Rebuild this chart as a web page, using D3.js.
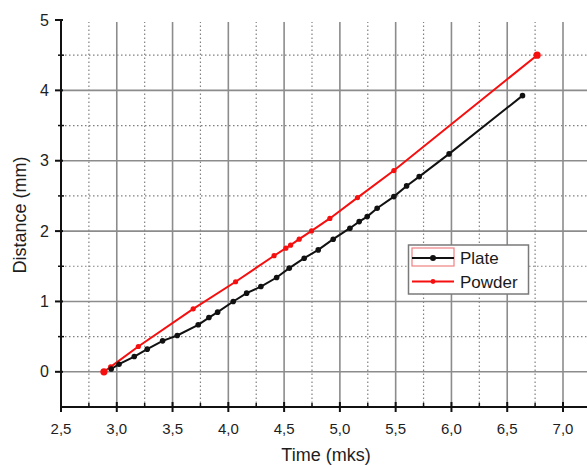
<!DOCTYPE html>
<html><head><meta charset="utf-8">
<script src="https://cdn.jsdelivr.net/npm/d3@7"></script>
<style>
html,body{margin:0;padding:0;background:#fff;}
svg{display:block;font-family:"Liberation Sans",Arial,sans-serif;}
</style></head>
<body><svg id="c" width="587" height="465"></svg>
<script>
// ---- data ----
const plateTime = [2.95, 3.02, 3.157, 3.273, 3.411, 3.542, 3.73, 3.826, 3.904, 4.044, 4.164, 4.292, 4.433, 4.546, 4.68, 4.806, 4.94, 5.09, 5.173, 5.245, 5.334, 5.484, 5.598, 5.711, 5.979, 6.637];
const plateDist = [0.04, 0.108, 0.217, 0.322, 0.44, 0.516, 0.668, 0.771, 0.848, 0.999, 1.118, 1.212, 1.34, 1.473, 1.615, 1.733, 1.885, 2.041, 2.135, 2.206, 2.325, 2.49, 2.642, 2.774, 3.097, 3.925];
const powderTime = [2.885, 2.945, 3.193, 3.685, 4.065, 4.41, 4.516, 4.558, 4.635, 4.746, 4.91, 5.158, 5.484, 6.768];
const powderDist = [0.0, 0.07, 0.36, 0.895, 1.28, 1.65, 1.757, 1.80, 1.885, 2.003, 2.18, 2.476, 2.86, 4.50];
const xMajor = [2.5, 3.0, 3.5, 4.0, 4.5, 5.0, 5.5, 6.0, 6.5, 7.0];
const xMinor = [2.75, 3.25, 3.75, 4.25, 4.75, 5.25, 5.75, 6.25, 6.75];
const yMajor = [0, 1, 2, 3, 4, 5];
const yMinor = [0.5, 1.5, 2.5, 3.5, 4.5];
const seriesNames = ["Plate", "Powder"];
const xTitle = "Time (mks)";
const yTitle = "Distance (mm)";

const svg = d3.select("#c");
const x = d3.scaleLinear().domain([2.5, 7.0]).range([61, 563]);
const y = d3.scaleLinear().domain([-0.5, 5]).range([407, 20]);
const xMaxPx = 600;

// grid
const g = svg.append("g");
g.selectAll("line.gxm").data(xMinor).join("line")
  .attr("x1", d => x(d)).attr("x2", d => x(d)).attr("y1", y(-0.5)).attr("y2", 22)
  .attr("stroke", "#808080").attr("stroke-width", 1.2).attr("stroke-dasharray", "1.5,2.5");
g.selectAll("line.gym").data(yMinor).join("line")
  .attr("x1", x(2.5)).attr("x2", xMaxPx).attr("y1", d => y(d)).attr("y2", d => y(d))
  .attr("stroke", "#808080").attr("stroke-width", 1.2).attr("stroke-dasharray", "1.5,2.5");
g.selectAll("line.gx").data(xMajor.slice(1)).join("line")
  .attr("x1", d => x(d)).attr("x2", d => x(d)).attr("y1", y(-0.5)).attr("y2", 22)
  .attr("stroke", "#8c8c8c").attr("stroke-width", 1.6);
g.selectAll("line.gy").data(yMajor.slice(0, 5)).join("line")
  .attr("x1", x(2.5)).attr("x2", xMaxPx).attr("y1", d => y(d)).attr("y2", d => y(d))
  .attr("stroke", "#8c8c8c").attr("stroke-width", 1.6);

// axes
const ax = svg.append("g");
ax.append("line").attr("x1", x(2.5)).attr("x2", xMaxPx).attr("y1", y(-0.5)).attr("y2", y(-0.5))
  .attr("stroke", "#111").attr("stroke-width", 2);
ax.append("line").attr("x1", x(2.5)).attr("x2", x(2.5)).attr("y1", y(-0.5)).attr("y2", y(5))
  .attr("stroke", "#111").attr("stroke-width", 2);
ax.selectAll("line.xt").data(xMajor).join("line")
  .attr("x1", d => x(d)).attr("x2", d => x(d)).attr("y1", y(-0.5) - 5).attr("y2", y(-0.5) + 5)
  .attr("stroke", "#111").attr("stroke-width", 2);
ax.selectAll("line.xmt").data(xMinor).join("line")
  .attr("x1", d => x(d)).attr("x2", d => x(d)).attr("y1", y(-0.5) - 4).attr("y2", y(-0.5) + 1)
  .attr("stroke", "#111").attr("stroke-width", 1.5);
ax.selectAll("line.yt").data(yMajor).join("line")
  .attr("x1", x(2.5) - 6).attr("x2", x(2.5) + 2).attr("y1", d => y(d)).attr("y2", d => y(d))
  .attr("stroke", "#111").attr("stroke-width", 2);
ax.selectAll("line.ymt").data(yMinor).join("line")
  .attr("x1", x(2.5) - 3).attr("x2", x(2.5) + 3).attr("y1", d => y(d)).attr("y2", d => y(d))
  .attr("stroke", "#111").attr("stroke-width", 1.5);

const fmt = d => d.toFixed(1).replace(".", ",");
ax.selectAll("text.xl").data(xMajor).join("text")
  .attr("x", d => x(d)).attr("y", y(-0.5) + 27).attr("text-anchor", "middle")
  .attr("font-size", 15).attr("fill", "#1e1e1e").text(fmt);
ax.selectAll("text.yl").data(yMajor).join("text")
  .attr("x", x(2.5) - 12).attr("y", d => y(d) + 5.5).attr("text-anchor", "end")
  .attr("font-size", 16).attr("fill", "#1e1e1e").text(d => d);
svg.append("text").attr("x", 326).attr("y", 461).attr("text-anchor", "middle")
  .attr("font-size", 18).attr("fill", "#1e1e1e").text(xTitle);
svg.append("text").attr("transform", "translate(26,215) rotate(-90)").attr("text-anchor", "middle")
  .attr("font-size", 18).attr("fill", "#1e1e1e").text(yTitle);

// series
const plate = plateTime.map((t, i) => [t, plateDist[i]]);
const powder = powderTime.map((t, i) => [t, powderDist[i]]);
const line = d3.line().x(d => x(d[0])).y(d => y(d[1]));
svg.append("path").datum(powder).attr("d", line).attr("fill", "none")
  .attr("stroke", "#f50f0f").attr("stroke-width", 2);
svg.append("path").datum(plate).attr("d", line).attr("fill", "none")
  .attr("stroke", "#111").attr("stroke-width", 2);
svg.selectAll("circle.pw").data(powder).join("circle")
  .attr("cx", d => x(d[0])).attr("cy", d => y(d[1]))
  .attr("r", (d, i) => (i === 0 || i === powder.length - 1) ? 3.6 : 2.6).attr("fill", "#f50f0f");
svg.selectAll("circle.pl").data(plate).join("circle")
  .attr("cx", d => x(d[0])).attr("cy", d => y(d[1])).attr("r", 2.8).attr("fill", "#111");

// legend
const lg = svg.append("g");
lg.append("rect").attr("x", 408.5).attr("y", 245).attr("width", 120).attr("height", 49)
  .attr("fill", "#fff").attr("stroke", "#7a7a7a").attr("stroke-width", 1.5);
lg.append("rect").attr("x", 412).attr("y", 248).attr("width", 42).attr("height", 18)
  .attr("fill", "none").attr("stroke", "#f08080").attr("stroke-width", 1.2);
lg.append("line").attr("x1", 412).attr("x2", 454).attr("y1", 258).attr("y2", 258)
  .attr("stroke", "#111").attr("stroke-width", 2);
lg.append("circle").attr("cx", 433).attr("cy", 258).attr("r", 3).attr("fill", "#111");
lg.append("line").attr("x1", 412).attr("x2", 454).attr("y1", 281.5).attr("y2", 281.5)
  .attr("stroke", "#f50f0f").attr("stroke-width", 2);
lg.append("circle").attr("cx", 433).attr("cy", 281.5).attr("r", 2.4).attr("fill", "#f50f0f");
lg.selectAll("text.lt").data(seriesNames).join("text")
  .attr("x", 460).attr("y", (d, i) => 264 + i * 23.5)
  .attr("font-size", 17).attr("fill", "#1a1a1a").text(d => d);
</script></body></html>
